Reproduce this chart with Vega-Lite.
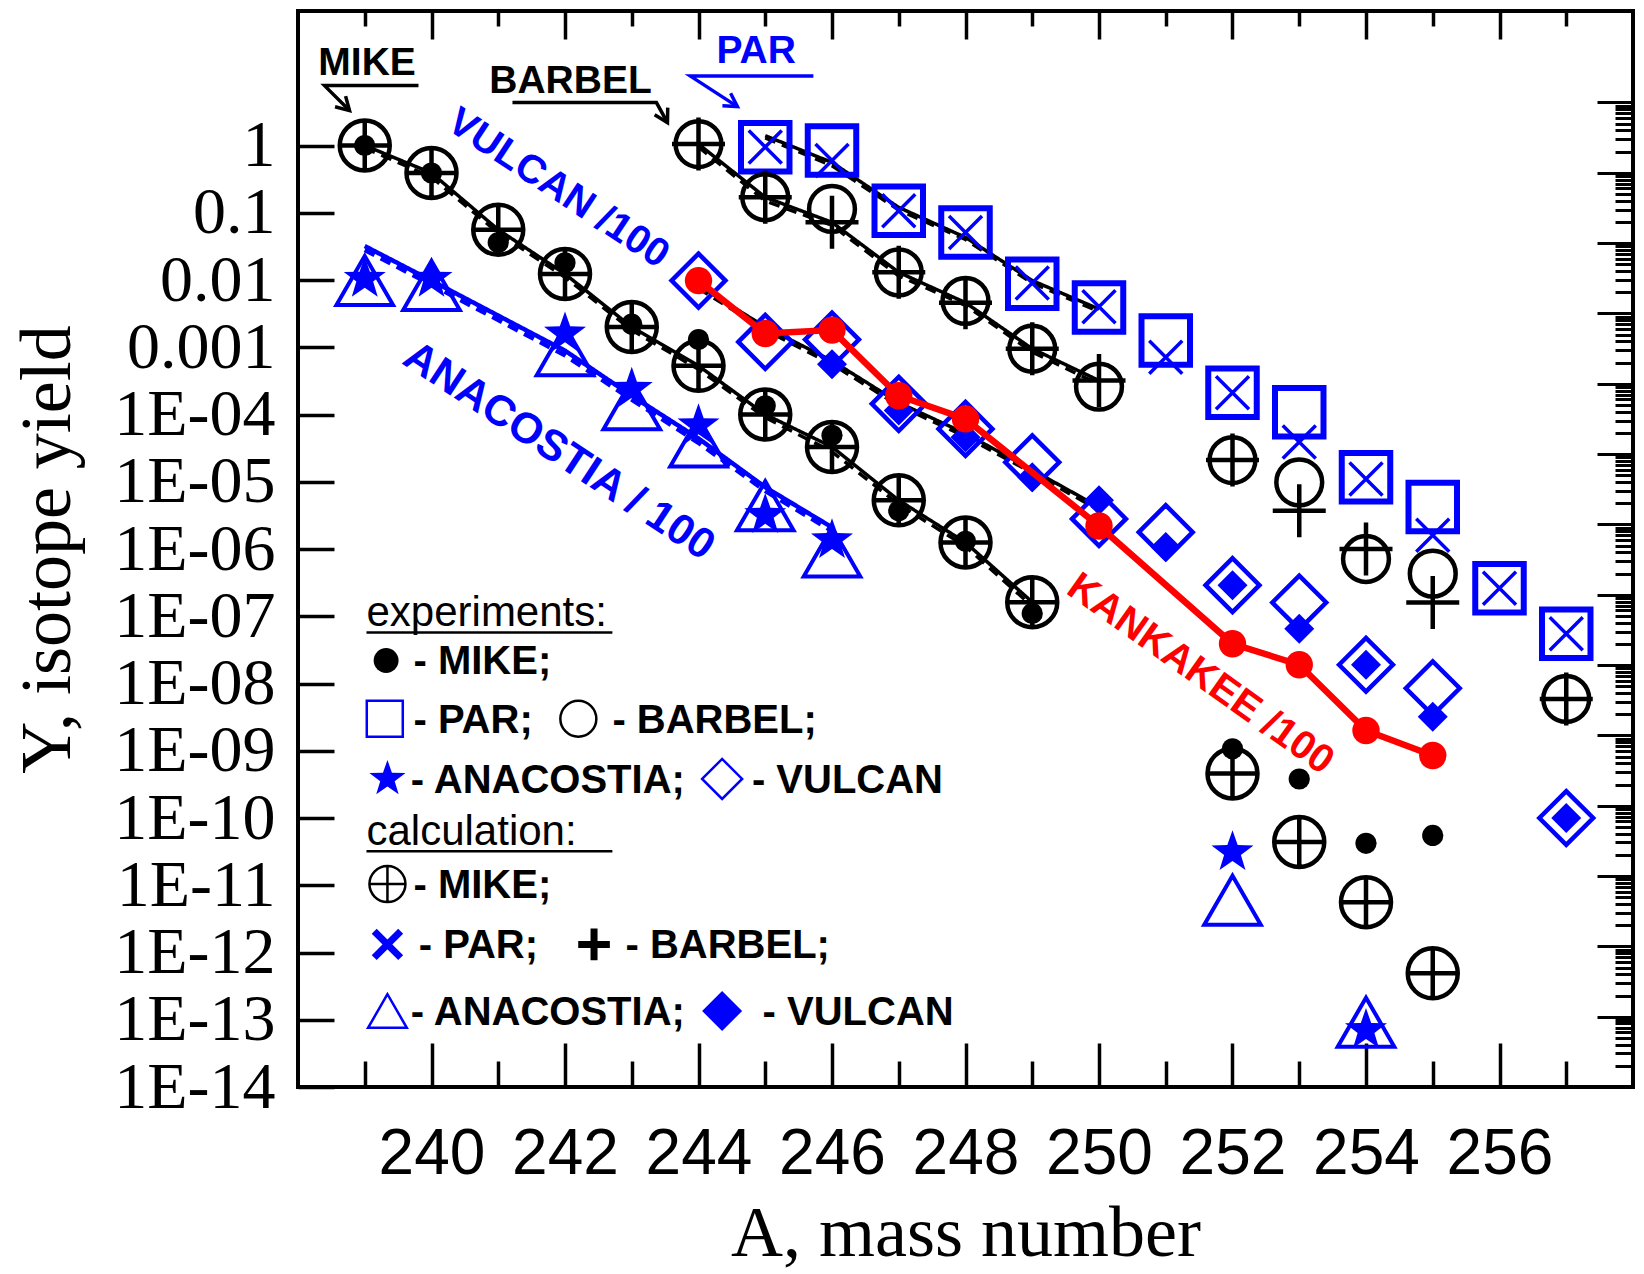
{
  "$schema": "https://vega.github.io/schema/vega-lite/v6.json",
  "autosize": {"type": "none"},
  "padding": {"left": 298, "top": 11, "right": 11, "bottom": 187},
  "width": 1335,
  "height": 1076,
  "background": "white",
  "config": {
    "view": {"stroke": "black", "strokeWidth": 4},
    "axis": {"grid": false, "domain": false, "tickColor": "black", "tickWidth": 3.5, "labelColor": "black", "titleColor": "black", "labelOverlap": false, "labelBound": false, "labelFlush": false}
  },
  "datasets": {
    "points": [
      {"A": 239, "Y": 1.0, "series": "MIKE", "kind": "exp"},
      {"A": 240, "Y": 0.39, "series": "MIKE", "kind": "exp"},
      {"A": 241, "Y": 0.036, "series": "MIKE", "kind": "exp"},
      {"A": 242, "Y": 0.018, "series": "MIKE", "kind": "exp"},
      {"A": 243, "Y": 0.0022, "series": "MIKE", "kind": "exp"},
      {"A": 244, "Y": 0.0013, "series": "MIKE", "kind": "exp"},
      {"A": 245, "Y": 1.35e-4, "series": "MIKE", "kind": "exp"},
      {"A": 246, "Y": 4.9e-5, "series": "MIKE", "kind": "exp"},
      {"A": 247, "Y": 3.7e-6, "series": "MIKE", "kind": "exp"},
      {"A": 248, "Y": 1.3e-6, "series": "MIKE", "kind": "exp"},
      {"A": 249, "Y": 1.1e-7, "series": "MIKE", "kind": "exp"},
      {"A": 252, "Y": 1.07e-9, "series": "MIKE", "kind": "exp"},
      {"A": 253, "Y": 3.8e-10, "series": "MIKE", "kind": "exp"},
      {"A": 254, "Y": 4.2e-11, "series": "MIKE", "kind": "exp"},
      {"A": 255, "Y": 5.5e-11, "series": "MIKE", "kind": "exp"},
      {"A": 239, "Y": 1.0, "series": "MIKE", "kind": "calc"},
      {"A": 240, "Y": 0.39, "series": "MIKE", "kind": "calc"},
      {"A": 241, "Y": 0.056, "series": "MIKE", "kind": "calc"},
      {"A": 242, "Y": 0.0123, "series": "MIKE", "kind": "calc"},
      {"A": 243, "Y": 0.002, "series": "MIKE", "kind": "calc"},
      {"A": 244, "Y": 5.3e-4, "series": "MIKE", "kind": "calc"},
      {"A": 245, "Y": 1.0e-4, "series": "MIKE", "kind": "calc"},
      {"A": 246, "Y": 3.3e-5, "series": "MIKE", "kind": "calc"},
      {"A": 247, "Y": 5.3e-6, "series": "MIKE", "kind": "calc"},
      {"A": 248, "Y": 1.25e-6, "series": "MIKE", "kind": "calc"},
      {"A": 249, "Y": 1.62e-7, "series": "MIKE", "kind": "calc"},
      {"A": 252, "Y": 4.6e-10, "series": "MIKE", "kind": "calc"},
      {"A": 253, "Y": 4.4e-11, "series": "MIKE", "kind": "calc"},
      {"A": 254, "Y": 5.6e-12, "series": "MIKE", "kind": "calc"},
      {"A": 255, "Y": 4.9e-13, "series": "MIKE", "kind": "calc"},
      {"A": 244, "Y": 1.05, "series": "BARBEL", "kind": "exp"},
      {"A": 245, "Y": 0.17, "series": "BARBEL", "kind": "exp"},
      {"A": 246, "Y": 0.114, "series": "BARBEL", "kind": "exp"},
      {"A": 247, "Y": 0.013, "series": "BARBEL", "kind": "exp"},
      {"A": 248, "Y": 0.0049, "series": "BARBEL", "kind": "exp"},
      {"A": 249, "Y": 9.5e-4, "series": "BARBEL", "kind": "exp"},
      {"A": 250, "Y": 2.6e-4, "series": "BARBEL", "kind": "exp"},
      {"A": 252, "Y": 2.1e-5, "series": "BARBEL", "kind": "exp"},
      {"A": 253, "Y": 9.8e-6, "series": "BARBEL", "kind": "exp"},
      {"A": 254, "Y": 7.1e-7, "series": "BARBEL", "kind": "exp"},
      {"A": 255, "Y": 4.3e-7, "series": "BARBEL", "kind": "exp"},
      {"A": 257, "Y": 5.9e-9, "series": "BARBEL", "kind": "exp"},
      {"A": 244, "Y": 1.05, "series": "BARBEL", "kind": "calc"},
      {"A": 245, "Y": 0.17, "series": "BARBEL", "kind": "calc"},
      {"A": 246, "Y": 0.072, "series": "BARBEL", "kind": "calc"},
      {"A": 247, "Y": 0.013, "series": "BARBEL", "kind": "calc"},
      {"A": 248, "Y": 0.0046, "series": "BARBEL", "kind": "calc"},
      {"A": 249, "Y": 9.5e-4, "series": "BARBEL", "kind": "calc"},
      {"A": 250, "Y": 3.2e-4, "series": "BARBEL", "kind": "calc"},
      {"A": 252, "Y": 2.1e-5, "series": "BARBEL", "kind": "calc"},
      {"A": 253, "Y": 3.7e-6, "series": "BARBEL", "kind": "calc"},
      {"A": 254, "Y": 1.0e-6, "series": "BARBEL", "kind": "calc"},
      {"A": 255, "Y": 1.6e-7, "series": "BARBEL", "kind": "calc"},
      {"A": 257, "Y": 5.9e-9, "series": "BARBEL", "kind": "calc"},
      {"A": 245, "Y": 0.94, "series": "PAR", "kind": "exp"},
      {"A": 246, "Y": 0.84, "series": "PAR", "kind": "exp"},
      {"A": 247, "Y": 0.107, "series": "PAR", "kind": "exp"},
      {"A": 248, "Y": 0.051, "series": "PAR", "kind": "exp"},
      {"A": 249, "Y": 0.0088, "series": "PAR", "kind": "exp"},
      {"A": 250, "Y": 0.0039, "series": "PAR", "kind": "exp"},
      {"A": 251, "Y": 0.00126, "series": "PAR", "kind": "exp"},
      {"A": 252, "Y": 2.1e-4, "series": "PAR", "kind": "exp"},
      {"A": 253, "Y": 1.08e-4, "series": "PAR", "kind": "exp"},
      {"A": 254, "Y": 1.17e-5, "series": "PAR", "kind": "exp"},
      {"A": 255, "Y": 4.2e-6, "series": "PAR", "kind": "exp"},
      {"A": 256, "Y": 2.6e-7, "series": "PAR", "kind": "exp"},
      {"A": 257, "Y": 5.5e-8, "series": "PAR", "kind": "exp"},
      {"A": 245, "Y": 0.95, "series": "PAR", "kind": "calc"},
      {"A": 246, "Y": 0.6, "series": "PAR", "kind": "calc"},
      {"A": 247, "Y": 0.107, "series": "PAR", "kind": "calc"},
      {"A": 248, "Y": 0.051, "series": "PAR", "kind": "calc"},
      {"A": 249, "Y": 0.009, "series": "PAR", "kind": "calc"},
      {"A": 250, "Y": 0.004, "series": "PAR", "kind": "calc"},
      {"A": 251, "Y": 7.1e-4, "series": "PAR", "kind": "calc"},
      {"A": 252, "Y": 2.1e-4, "series": "PAR", "kind": "calc"},
      {"A": 253, "Y": 3.9e-5, "series": "PAR", "kind": "calc"},
      {"A": 254, "Y": 1.1e-5, "series": "PAR", "kind": "calc"},
      {"A": 255, "Y": 1.6e-6, "series": "PAR", "kind": "calc"},
      {"A": 256, "Y": 2.6e-7, "series": "PAR", "kind": "calc"},
      {"A": 257, "Y": 5.5e-8, "series": "PAR", "kind": "calc"},
      {"A": 244, "Y": 0.0098, "series": "VULCAN", "kind": "exp"},
      {"A": 245, "Y": 0.0012, "series": "VULCAN", "kind": "exp"},
      {"A": 246, "Y": 0.0013, "series": "VULCAN", "kind": "exp"},
      {"A": 247, "Y": 1.44e-4, "series": "VULCAN", "kind": "exp"},
      {"A": 248, "Y": 6.1e-5, "series": "VULCAN", "kind": "exp"},
      {"A": 249, "Y": 1.95e-5, "series": "VULCAN", "kind": "exp"},
      {"A": 250, "Y": 2.8e-6, "series": "VULCAN", "kind": "exp"},
      {"A": 251, "Y": 1.78e-6, "series": "VULCAN", "kind": "exp"},
      {"A": 252, "Y": 2.9e-7, "series": "VULCAN", "kind": "exp"},
      {"A": 253, "Y": 1.6e-7, "series": "VULCAN", "kind": "exp"},
      {"A": 254, "Y": 1.9e-8, "series": "VULCAN", "kind": "exp"},
      {"A": 255, "Y": 8.5e-9, "series": "VULCAN", "kind": "exp"},
      {"A": 257, "Y": 1.0e-10, "series": "VULCAN", "kind": "exp"},
      {"A": 246, "Y": 5.6e-4, "series": "VULCAN", "kind": "calc"},
      {"A": 247, "Y": 1.15e-4, "series": "VULCAN", "kind": "calc"},
      {"A": 248, "Y": 4.6e-5, "series": "VULCAN", "kind": "calc"},
      {"A": 249, "Y": 1.17e-5, "series": "VULCAN", "kind": "calc"},
      {"A": 250, "Y": 5.3e-6, "series": "VULCAN", "kind": "calc"},
      {"A": 251, "Y": 1.07e-6, "series": "VULCAN", "kind": "calc"},
      {"A": 252, "Y": 2.9e-7, "series": "VULCAN", "kind": "calc"},
      {"A": 253, "Y": 6.5e-8, "series": "VULCAN", "kind": "calc"},
      {"A": 254, "Y": 1.9e-8, "series": "VULCAN", "kind": "calc"},
      {"A": 255, "Y": 3.2e-9, "series": "VULCAN", "kind": "calc"},
      {"A": 257, "Y": 1.0e-10, "series": "VULCAN", "kind": "calc"},
      {"A": 239, "Y": 0.0104, "series": "ANACOSTIA", "kind": "exp"},
      {"A": 240, "Y": 0.0104, "series": "ANACOSTIA", "kind": "exp"},
      {"A": 242, "Y": 0.0016, "series": "ANACOSTIA", "kind": "exp"},
      {"A": 243, "Y": 2.4e-4, "series": "ANACOSTIA", "kind": "exp"},
      {"A": 244, "Y": 6.9e-5, "series": "ANACOSTIA", "kind": "exp"},
      {"A": 245, "Y": 3.2e-6, "series": "ANACOSTIA", "kind": "exp"},
      {"A": 246, "Y": 1.35e-6, "series": "ANACOSTIA", "kind": "exp"},
      {"A": 252, "Y": 3.1e-11, "series": "ANACOSTIA", "kind": "exp"},
      {"A": 254, "Y": 7e-14, "series": "ANACOSTIA", "kind": "exp"},
      {"A": 239, "Y": 0.0098, "series": "ANACOSTIA", "kind": "calc"},
      {"A": 240, "Y": 0.0083, "series": "ANACOSTIA", "kind": "calc"},
      {"A": 242, "Y": 8.9e-4, "series": "ANACOSTIA", "kind": "calc"},
      {"A": 243, "Y": 1.4e-4, "series": "ANACOSTIA", "kind": "calc"},
      {"A": 244, "Y": 3.9e-5, "series": "ANACOSTIA", "kind": "calc"},
      {"A": 245, "Y": 4.4e-6, "series": "ANACOSTIA", "kind": "calc"},
      {"A": 246, "Y": 9e-7, "series": "ANACOSTIA", "kind": "calc"},
      {"A": 252, "Y": 6e-12, "series": "ANACOSTIA", "kind": "calc"},
      {"A": 254, "Y": 9.2e-14, "series": "ANACOSTIA", "kind": "calc"},
      {"A": 244, "Y": 0.0098, "series": "KANKAKEE", "kind": "exp"},
      {"A": 245, "Y": 0.0016, "series": "KANKAKEE", "kind": "exp"},
      {"A": 246, "Y": 0.0018, "series": "KANKAKEE", "kind": "exp"},
      {"A": 247, "Y": 1.9e-4, "series": "KANKAKEE", "kind": "exp"},
      {"A": 248, "Y": 8.6e-5, "series": "KANKAKEE", "kind": "exp"},
      {"A": 250, "Y": 2.2e-6, "series": "KANKAKEE", "kind": "exp"},
      {"A": 252, "Y": 3.9e-8, "series": "KANKAKEE", "kind": "exp"},
      {"A": 253, "Y": 1.9e-8, "series": "KANKAKEE", "kind": "exp"},
      {"A": 254, "Y": 2.0e-9, "series": "KANKAKEE", "kind": "exp"},
      {"A": 255, "Y": 8.5e-10, "series": "KANKAKEE", "kind": "exp"}
    ],
    "lines": [
      {"A": 239, "Y": 1.0, "series": "MIKE", "curve": "fit 1"},
      {"A": 240, "Y": 0.39, "series": "MIKE", "curve": "fit 1"},
      {"A": 241, "Y": 0.056, "series": "MIKE", "curve": "fit 1"},
      {"A": 242, "Y": 0.0123, "series": "MIKE", "curve": "fit 1"},
      {"A": 243, "Y": 0.002, "series": "MIKE", "curve": "fit 1"},
      {"A": 244, "Y": 5.3e-4, "series": "MIKE", "curve": "fit 1"},
      {"A": 245, "Y": 1.0e-4, "series": "MIKE", "curve": "fit 1"},
      {"A": 246, "Y": 3.3e-5, "series": "MIKE", "curve": "fit 1"},
      {"A": 247, "Y": 5.3e-6, "series": "MIKE", "curve": "fit 1"},
      {"A": 248, "Y": 1.25e-6, "series": "MIKE", "curve": "fit 1"},
      {"A": 249, "Y": 1.62e-7, "series": "MIKE", "curve": "fit 1"},
      {"A": 239, "Y": 0.92, "series": "MIKE", "curve": "fit 2"},
      {"A": 240, "Y": 0.34, "series": "MIKE", "curve": "fit 2"},
      {"A": 241, "Y": 0.05, "series": "MIKE", "curve": "fit 2"},
      {"A": 242, "Y": 0.011, "series": "MIKE", "curve": "fit 2"},
      {"A": 243, "Y": 0.0018, "series": "MIKE", "curve": "fit 2"},
      {"A": 244, "Y": 4.7e-4, "series": "MIKE", "curve": "fit 2"},
      {"A": 245, "Y": 9e-5, "series": "MIKE", "curve": "fit 2"},
      {"A": 246, "Y": 2.8e-5, "series": "MIKE", "curve": "fit 2"},
      {"A": 247, "Y": 4.6e-6, "series": "MIKE", "curve": "fit 2"},
      {"A": 248, "Y": 1.1e-6, "series": "MIKE", "curve": "fit 2"},
      {"A": 249, "Y": 1.4e-7, "series": "MIKE", "curve": "fit 2"},
      {"A": 244, "Y": 1.05, "series": "BARBEL", "curve": "fit 1"},
      {"A": 245, "Y": 0.17, "series": "BARBEL", "curve": "fit 1"},
      {"A": 246, "Y": 0.072, "series": "BARBEL", "curve": "fit 1"},
      {"A": 247, "Y": 0.013, "series": "BARBEL", "curve": "fit 1"},
      {"A": 248, "Y": 0.0046, "series": "BARBEL", "curve": "fit 1"},
      {"A": 249, "Y": 9.5e-4, "series": "BARBEL", "curve": "fit 1"},
      {"A": 250, "Y": 3.2e-4, "series": "BARBEL", "curve": "fit 1"},
      {"A": 244, "Y": 0.95, "series": "BARBEL", "curve": "fit 2"},
      {"A": 245, "Y": 0.15, "series": "BARBEL", "curve": "fit 2"},
      {"A": 246, "Y": 0.065, "series": "BARBEL", "curve": "fit 2"},
      {"A": 247, "Y": 0.0115, "series": "BARBEL", "curve": "fit 2"},
      {"A": 248, "Y": 0.0042, "series": "BARBEL", "curve": "fit 2"},
      {"A": 249, "Y": 8.5e-4, "series": "BARBEL", "curve": "fit 2"},
      {"A": 250, "Y": 2.8e-4, "series": "BARBEL", "curve": "fit 2"},
      {"A": 245, "Y": 1.4, "series": "PAR", "curve": "fit 1"},
      {"A": 246, "Y": 0.56, "series": "PAR", "curve": "fit 1"},
      {"A": 247, "Y": 0.12, "series": "PAR", "curve": "fit 1"},
      {"A": 248, "Y": 0.043, "series": "PAR", "curve": "fit 1"},
      {"A": 249, "Y": 0.0098, "series": "PAR", "curve": "fit 1"},
      {"A": 250, "Y": 0.0037, "series": "PAR", "curve": "fit 1"},
      {"A": 245, "Y": 1.3, "series": "PAR", "curve": "fit 2"},
      {"A": 246, "Y": 0.5, "series": "PAR", "curve": "fit 2"},
      {"A": 247, "Y": 0.11, "series": "PAR", "curve": "fit 2"},
      {"A": 248, "Y": 0.04, "series": "PAR", "curve": "fit 2"},
      {"A": 249, "Y": 0.009, "series": "PAR", "curve": "fit 2"},
      {"A": 250, "Y": 0.0034, "series": "PAR", "curve": "fit 2"},
      {"A": 244, "Y": 0.0083, "series": "VULCAN", "curve": "fit 1"},
      {"A": 245, "Y": 0.002, "series": "VULCAN", "curve": "fit 1"},
      {"A": 246, "Y": 6.3e-4, "series": "VULCAN", "curve": "fit 1"},
      {"A": 247, "Y": 1.5e-4, "series": "VULCAN", "curve": "fit 1"},
      {"A": 248, "Y": 5.2e-5, "series": "VULCAN", "curve": "fit 1"},
      {"A": 249, "Y": 1.5e-5, "series": "VULCAN", "curve": "fit 1"},
      {"A": 250, "Y": 4.2e-6, "series": "VULCAN", "curve": "fit 1"},
      {"A": 244, "Y": 0.0075, "series": "VULCAN", "curve": "fit 2"},
      {"A": 245, "Y": 0.0018, "series": "VULCAN", "curve": "fit 2"},
      {"A": 246, "Y": 5.6e-4, "series": "VULCAN", "curve": "fit 2"},
      {"A": 247, "Y": 1.35e-4, "series": "VULCAN", "curve": "fit 2"},
      {"A": 248, "Y": 4.7e-5, "series": "VULCAN", "curve": "fit 2"},
      {"A": 249, "Y": 1.35e-5, "series": "VULCAN", "curve": "fit 2"},
      {"A": 250, "Y": 3.8e-6, "series": "VULCAN", "curve": "fit 2"},
      {"A": 239, "Y": 0.032, "series": "ANACOSTIA", "curve": "fit 1"},
      {"A": 240, "Y": 0.0098, "series": "ANACOSTIA", "curve": "fit 1"},
      {"A": 242, "Y": 8.9e-4, "series": "ANACOSTIA", "curve": "fit 1"},
      {"A": 243, "Y": 1.9e-4, "series": "ANACOSTIA", "curve": "fit 1"},
      {"A": 244, "Y": 4.4e-5, "series": "ANACOSTIA", "curve": "fit 1"},
      {"A": 245, "Y": 8.3e-6, "series": "ANACOSTIA", "curve": "fit 1"},
      {"A": 246, "Y": 2.1e-6, "series": "ANACOSTIA", "curve": "fit 1"},
      {"A": 239, "Y": 0.028, "series": "ANACOSTIA", "curve": "fit 2"},
      {"A": 240, "Y": 0.0085, "series": "ANACOSTIA", "curve": "fit 2"},
      {"A": 242, "Y": 7.6e-4, "series": "ANACOSTIA", "curve": "fit 2"},
      {"A": 243, "Y": 1.66e-4, "series": "ANACOSTIA", "curve": "fit 2"},
      {"A": 244, "Y": 3.8e-5, "series": "ANACOSTIA", "curve": "fit 2"},
      {"A": 245, "Y": 7.3e-6, "series": "ANACOSTIA", "curve": "fit 2"},
      {"A": 246, "Y": 1.85e-6, "series": "ANACOSTIA", "curve": "fit 2"}
    ],
    "labels": [
      {"A": 239.035, "Y": 16.96, "label": "MIKE", "group": "black"},
      {"A": 242.083, "Y": 9.06, "label": "BARBEL", "group": "black"},
      {"A": 244.864, "Y": 25.7, "label": "PAR", "group": "blue"},
      {"A": 241.9, "Y": 0.229, "label": "VULCAN /100", "group": "vulcanTilt"},
      {"A": 241.91, "Y": 2.83e-5, "label": "ANACOSTIA / 100", "group": "anaTilt"},
      {"A": 251.52, "Y": 1.38e-8, "label": "KANKAKEE /100", "group": "redTilt"}
    ],
    "arrows": [
      {"A": 239.805, "Y": 7.77, "part": "MIKE line", "i": 0, "series": "MIKE"},
      {"A": 238.397, "Y": 7.77, "part": "MIKE line", "i": 1, "series": "MIKE"},
      {"A": 238.772, "Y": 3.304, "part": "MIKE line", "i": 2, "series": "MIKE"},
      {"A": 238.555, "Y": 3.775, "part": "MIKE head", "i": 0, "series": "MIKE"},
      {"A": 238.772, "Y": 3.304, "part": "MIKE head", "i": 1, "series": "MIKE"},
      {"A": 238.713, "Y": 5.426, "part": "MIKE head", "i": 2, "series": "MIKE"},
      {"A": 241.213, "Y": 4.343, "part": "BARBEL line", "i": 0, "series": "BARBEL"},
      {"A": 243.37, "Y": 4.343, "part": "BARBEL line", "i": 1, "series": "BARBEL"},
      {"A": 243.535, "Y": 2.19, "part": "BARBEL line", "i": 2, "series": "BARBEL"},
      {"A": 243.539, "Y": 3.66, "part": "BARBEL head", "i": 0, "series": "BARBEL"},
      {"A": 243.535, "Y": 2.19, "part": "BARBEL head", "i": 1, "series": "BARBEL"},
      {"A": 243.343, "Y": 2.86, "part": "BARBEL head", "i": 2, "series": "BARBEL"},
      {"A": 245.721, "Y": 10.76, "part": "PAR line", "i": 0, "series": "PAR"},
      {"A": 243.879, "Y": 10.76, "part": "PAR line", "i": 1, "series": "PAR"},
      {"A": 244.583, "Y": 3.788, "part": "PAR line", "i": 2, "series": "PAR"},
      {"A": 244.481, "Y": 5.991, "part": "PAR head", "i": 0, "series": "PAR"},
      {"A": 244.583, "Y": 3.788, "part": "PAR head", "i": 1, "series": "PAR"},
      {"A": 244.358, "Y": 3.892, "part": "PAR head", "i": 2, "series": "PAR"}
    ],
    "legendText": [
      {"A": 239.026, "Y": 7.05e-8, "text": "experiments:", "role": "header"},
      {"A": 239.026, "Y": 3.93e-11, "text": "calculation:", "role": "header"},
      {"A": 239.73, "Y": 2.06e-8, "text": "- MIKE;", "role": "item"},
      {"A": 239.73, "Y": 2.8e-9, "text": "- PAR;", "role": "item"},
      {"A": 242.71, "Y": 2.8e-9, "text": "- BARBEL;", "role": "item"},
      {"A": 239.69, "Y": 3.56e-10, "text": "- ANACOSTIA;", "role": "item"},
      {"A": 244.8, "Y": 3.56e-10, "text": "- VULCAN", "role": "item"},
      {"A": 239.73, "Y": 9.7e-12, "text": "- MIKE;", "role": "item"},
      {"A": 239.81, "Y": 1.23e-12, "text": "- PAR;", "role": "item"},
      {"A": 242.906, "Y": 1.23e-12, "text": "- BARBEL;", "role": "item"},
      {"A": 239.69, "Y": 1.26e-13, "text": "- ANACOSTIA;", "role": "item"},
      {"A": 244.96, "Y": 1.26e-13, "text": "- VULCAN", "role": "item"}
    ],
    "legendRules": [
      {"A": 239.026, "A2": 242.71, "Y": 5.75e-8},
      {"A": 239.026, "A2": 242.71, "Y": 3.19e-11}
    ],
    "legendSym": [
      {"A": 239.32, "Y": 2.2e-8, "sym": "MIKE exp"},
      {"A": 239.3, "Y": 2.99e-9, "sym": "PAR exp"},
      {"A": 242.2, "Y": 2.99e-9, "sym": "BARBEL exp"},
      {"A": 239.34, "Y": 3.81e-10, "sym": "ANACOSTIA exp"},
      {"A": 244.354, "Y": 3.81e-10, "sym": "VULCAN exp"},
      {"A": 239.34, "Y": 1.04e-11, "sym": "MIKE calc"},
      {"A": 239.34, "Y": 1.32e-12, "sym": "PAR calc"},
      {"A": 242.435, "Y": 1.32e-12, "sym": "BARBEL calc"},
      {"A": 239.34, "Y": 1.35e-13, "sym": "ANACOSTIA calc"},
      {"A": 244.354, "Y": 1.35e-13, "sym": "VULCAN calc"}
    ]
  },
  "resolve": {"scale": {"y": "independent"}, "axis": {"x": "independent", "y": "independent"}},
  "layer": [
    {
      "encoding": {
        "x": {
          "field": "A", "type": "quantitative",
          "scale": {"domain": [238, 258], "nice": false, "zero": false},
          "axis": {
            "orient": "bottom",
            "values": [239, 240, 241, 242, 243, 244, 245, 246, 247, 248, 249, 250, 251, 252, 253, 254, 255, 256, 257],
            "labelExpr": "datum.value % 2 == 0 ? datum.label : ''",
            "tickSize": {"condition": {"test": "datum.value % 2 == 0", "value": -44}, "value": -26},
            "labelPadding": 79,
            "labelFont": "Liberation Sans", "labelFontSize": 64,
            "title": "A,  mass number",
            "titleFont": "Liberation Serif", "titleFontSize": 72, "titleFontWeight": "normal",
            "titleBaseline": "middle", "titleY": 146
          }
        },
        "y": {
          "field": "Y", "type": "quantitative",
          "scale": {"type": "log", "domain": [1e-14, 100], "nice": false},
          "axis": {
            "orient": "left",
            "values": [1, 0.1, 0.01, 0.001, 1e-4, 1e-5, 1e-6, 1e-7, 1e-8, 1e-9, 1e-10, 1e-11, 1e-12, 1e-13, 1e-14],
            "labelExpr": "datum.value > 0.0005 ? format(datum.value, '~g') : '1E-' + (round(-log(datum.value)/LN10) < 10 ? '0' : '') + round(-log(datum.value)/LN10)",
            "tickSize": -36,
            "labelPadding": 59,
            "labelFont": "Liberation Serif", "labelFontSize": 66,
            "title": "Y, isotope yield",
            "titleFont": "Liberation Serif", "titleFontSize": 72, "titleFontWeight": "normal",
            "titleAngle": -90, "titleBaseline": "middle", "titleAlign": "center", "titleX": -251
          }
        }
      },
      "layer": [
        {
          "data": {"name": "lines"},
          "transform": [{"filter": "datum.series != 'ANACOSTIA'"}],
          "mark": {"type": "line", "color": "black", "strokeWidth": 3.5},
          "encoding": {
            "detail": {"field": "series", "type": "nominal"},
            "strokeDash": {"field": "curve", "type": "nominal", "scale": {"domain": ["fit 1", "fit 2"], "range": [[1, 0], [11, 7]]}, "legend": null}
          }
        },
        {
          "data": {"name": "lines"},
          "transform": [{"filter": "datum.series == 'ANACOSTIA'"}],
          "mark": {"type": "line", "color": "#0000ff", "strokeWidth": 4.5},
          "encoding": {
            "detail": {"field": "series", "type": "nominal"},
            "strokeDash": {"field": "curve", "type": "nominal", "scale": {"domain": ["fit 1", "fit 2"], "range": [[1, 0], [11, 7]]}, "legend": null}
          }
        },
        {
          "data": {"name": "points"},
          "transform": [{"filter": "datum.series == 'PAR' && datum.kind == 'exp'"}],
          "mark": {"type": "point", "shape": "square", "filled": false, "color": "#0000ff", "strokeWidth": 6, "size": 2352, "opacity": 1}
        },
        {
          "data": {"name": "points"},
          "transform": [{"filter": "datum.series == 'PAR' && datum.kind == 'calc'"}],
          "mark": {"type": "point", "shape": "M-1,-1L1,1M-1,1L1,-1", "filled": false, "color": "#0000ff", "strokeWidth": 3.5, "size": 1089, "opacity": 1}
        },
        {
          "data": {"name": "points"},
          "transform": [{"filter": "datum.series == 'VULCAN' && datum.kind == 'exp'"}],
          "mark": {"type": "point", "shape": "diamond", "filled": false, "color": "#0000ff", "strokeWidth": 4.5, "size": 2900, "opacity": 1}
        },
        {
          "data": {"name": "points"},
          "transform": [{"filter": "datum.series == 'VULCAN' && datum.kind == 'calc'"}],
          "mark": {"type": "point", "shape": "diamond", "filled": true, "color": "#0000ff", "size": 900, "opacity": 1}
        },
        {
          "data": {"name": "points"},
          "transform": [{"filter": "datum.series == 'BARBEL' && datum.kind == 'exp'"}],
          "mark": {"type": "point", "shape": "circle", "filled": false, "color": "black", "strokeWidth": 4.5, "size": 2100, "opacity": 1}
        },
        {
          "data": {"name": "points"},
          "transform": [{"filter": "datum.series == 'BARBEL' && datum.kind == 'calc'"}],
          "mark": {"type": "point", "shape": "M-1,0L1,0M0,-1L0,1", "filled": false, "color": "black", "strokeWidth": 4.5, "size": 2809, "opacity": 1}
        },
        {
          "data": {"name": "points"},
          "transform": [{"filter": "datum.series == 'MIKE' && datum.kind == 'calc'"}],
          "mark": {"type": "point", "shape": "M-1,0A1,1,0,1,0,1,0A1,1,0,1,0,-1,0M-1,0L1,0M0,-1L0,1", "filled": false, "color": "black", "strokeWidth": 4.5, "size": 2500, "opacity": 1}
        },
        {
          "data": {"name": "points"},
          "transform": [{"filter": "datum.series == 'MIKE' && datum.kind == 'exp'"}],
          "mark": {"type": "point", "shape": "circle", "filled": true, "color": "black", "size": 450, "opacity": 1}
        },
        {
          "data": {"name": "points"},
          "transform": [{"filter": "datum.series == 'ANACOSTIA' && datum.kind == 'calc'"}],
          "mark": {"type": "point", "shape": "triangle-up", "filled": false, "color": "#0000ff", "strokeWidth": 4, "size": 3200, "opacity": 1}
        },
        {
          "data": {"name": "points"},
          "transform": [{"filter": "datum.series == 'ANACOSTIA' && datum.kind == 'exp'"}],
          "mark": {"type": "point", "shape": "M0,-1L0.235,-0.324L0.951,-0.309L0.38,0.124L0.588,0.809L0,0.4L-0.588,0.809L-0.38,0.124L-0.951,-0.309L-0.235,-0.324Z", "filled": true, "color": "#0000ff", "size": 1950, "opacity": 1}
        },
        {
          "data": {"name": "points"},
          "transform": [{"filter": "datum.series == 'KANKAKEE'"}],
          "mark": {"type": "line", "color": "#ff0000", "strokeWidth": 6.5},
          "encoding": {}
        },
        {
          "data": {"name": "points"},
          "transform": [{"filter": "datum.series == 'KANKAKEE'"}],
          "mark": {"type": "point", "shape": "circle", "filled": true, "color": "#ff0000", "size": 750, "opacity": 1}
        },
        {
          "data": {"name": "labels"},
          "transform": [{"filter": "datum.group == 'black'"}],
          "mark": {"type": "text", "font": "Liberation Sans", "fontWeight": "bold", "fontSize": 39, "color": "black", "align": "center", "baseline": "middle"},
          "encoding": {"text": {"field": "label"}}
        },
        {
          "data": {"name": "labels"},
          "transform": [{"filter": "datum.group == 'blue'"}],
          "mark": {"type": "text", "font": "Liberation Sans", "fontWeight": "bold", "fontSize": 39, "color": "#0000ff", "align": "center", "baseline": "middle"},
          "encoding": {"text": {"field": "label"}}
        },
        {
          "data": {"name": "labels"},
          "transform": [{"filter": "datum.group == 'vulcanTilt'"}],
          "mark": {"type": "text", "font": "Liberation Sans", "fontWeight": "bold", "fontSize": 40, "color": "#0000ff", "align": "center", "baseline": "middle", "angle": 33.5},
          "encoding": {"text": {"field": "label"}}
        },
        {
          "data": {"name": "labels"},
          "transform": [{"filter": "datum.group == 'anaTilt'"}],
          "mark": {"type": "text", "font": "Liberation Sans", "fontWeight": "bold", "fontSize": 43, "color": "#0000ff", "align": "center", "baseline": "middle", "angle": 33.3},
          "encoding": {"text": {"field": "label"}}
        },
        {
          "data": {"name": "labels"},
          "transform": [{"filter": "datum.group == 'redTilt'"}],
          "mark": {"type": "text", "font": "Liberation Sans", "fontWeight": "bold", "fontSize": 40, "color": "#ff0000", "align": "center", "baseline": "middle", "angle": 35.4},
          "encoding": {"text": {"field": "label"}}
        },
        {
          "data": {"name": "arrows"},
          "transform": [{"filter": "datum.series != 'PAR'"}],
          "mark": {"type": "line", "color": "black", "strokeWidth": 3.5},
          "encoding": {"detail": {"field": "part", "type": "nominal"}, "order": {"field": "i", "type": "quantitative"}}
        },
        {
          "data": {"name": "arrows"},
          "transform": [{"filter": "datum.series == 'PAR'"}],
          "mark": {"type": "line", "color": "#0000ff", "strokeWidth": 3.5},
          "encoding": {"detail": {"field": "part", "type": "nominal"}, "order": {"field": "i", "type": "quantitative"}}
        },
        {
          "data": {"name": "legendRules"},
          "mark": {"type": "rule", "color": "black", "strokeWidth": 2.5},
          "encoding": {"x2": {"field": "A2"}}
        },
        {
          "data": {"name": "legendText"},
          "transform": [{"filter": "datum.role == 'header'"}],
          "mark": {"type": "text", "font": "Liberation Sans", "fontWeight": "normal", "fontSize": 42, "color": "black", "align": "left", "baseline": "alphabetic"},
          "encoding": {"text": {"field": "text"}}
        },
        {
          "data": {"name": "legendText"},
          "transform": [{"filter": "datum.role == 'item'"}],
          "mark": {"type": "text", "font": "Liberation Sans", "fontWeight": "bold", "fontSize": 40, "color": "black", "align": "left", "baseline": "middle"},
          "encoding": {"text": {"field": "text"}}
        },
        {
          "data": {"name": "legendSym"},
          "transform": [{"filter": "datum.sym == 'MIKE exp'"}],
          "mark": {"type": "point", "shape": "circle", "filled": true, "color": "black", "size": 620, "opacity": 1}
        },
        {
          "data": {"name": "legendSym"},
          "transform": [{"filter": "datum.sym == 'PAR exp'"}],
          "mark": {"type": "point", "shape": "square", "filled": false, "color": "#0000ff", "strokeWidth": 2.5, "size": 1296, "opacity": 1}
        },
        {
          "data": {"name": "legendSym"},
          "transform": [{"filter": "datum.sym == 'BARBEL exp'"}],
          "mark": {"type": "point", "shape": "circle", "filled": false, "color": "black", "strokeWidth": 2.5, "size": 1296, "opacity": 1}
        },
        {
          "data": {"name": "legendSym"},
          "transform": [{"filter": "datum.sym == 'ANACOSTIA exp'"}],
          "mark": {"type": "point", "shape": "M0,-1L0.235,-0.324L0.951,-0.309L0.38,0.124L0.588,0.809L0,0.4L-0.588,0.809L-0.38,0.124L-0.951,-0.309L-0.235,-0.324Z", "filled": true, "color": "#0000ff", "size": 1450, "opacity": 1}
        },
        {
          "data": {"name": "legendSym"},
          "transform": [{"filter": "datum.sym == 'VULCAN exp'"}],
          "mark": {"type": "point", "shape": "diamond", "filled": false, "color": "#0000ff", "strokeWidth": 2.5, "size": 1600, "opacity": 1}
        },
        {
          "data": {"name": "legendSym"},
          "transform": [{"filter": "datum.sym == 'MIKE calc'"}],
          "mark": {"type": "point", "shape": "M-1,0A1,1,0,1,0,1,0A1,1,0,1,0,-1,0M-1,0L1,0M0,-1L0,1", "filled": false, "color": "black", "strokeWidth": 2.5, "size": 1296, "opacity": 1}
        },
        {
          "data": {"name": "legendSym"},
          "transform": [{"filter": "datum.sym == 'PAR calc'"}],
          "mark": {"type": "point", "shape": "M-1,-1L1,1M-1,1L1,-1", "filled": false, "color": "#0000ff", "strokeWidth": 7, "size": 700, "opacity": 1}
        },
        {
          "data": {"name": "legendSym"},
          "transform": [{"filter": "datum.sym == 'BARBEL calc'"}],
          "mark": {"type": "point", "shape": "M-1,0L1,0M0,-1L0,1", "filled": false, "color": "black", "strokeWidth": 7, "size": 1000, "opacity": 1}
        },
        {
          "data": {"name": "legendSym"},
          "transform": [{"filter": "datum.sym == 'ANACOSTIA calc'"}],
          "mark": {"type": "point", "shape": "triangle-up", "filled": false, "color": "#0000ff", "strokeWidth": 2.5, "size": 1500, "opacity": 1}
        },
        {
          "data": {"name": "legendSym"},
          "transform": [{"filter": "datum.sym == 'VULCAN calc'"}],
          "mark": {"type": "point", "shape": "diamond", "filled": true, "color": "#0000ff", "size": 1600, "opacity": 1}
        }
      ]
    },
    {
      "data": {"values": [{"A": 248, "Yr": 1}]},
      "mark": {"type": "point", "opacity": 0},
      "encoding": {
        "x": {
          "field": "A", "type": "quantitative",
          "scale": {"domain": [238, 258], "nice": false, "zero": false},
          "axis": {
            "orient": "top",
            "values": [239, 240, 241, 242, 243, 244, 245, 246, 247, 248, 249, 250, 251, 252, 253, 254, 255, 256, 257],
            "labels": false, "title": null,
            "tickSize": {"condition": {"test": "datum.value % 2 == 0", "value": -28}, "value": -15}
          }
        },
        "y": {
          "field": "Yr", "type": "quantitative",
          "scale": {"type": "log", "domain": [1e-14, 20], "nice": false},
          "axis": {
            "orient": "right",
            "labels": false, "title": null,
            "values": [1e-14, 2e-14, 3e-14, 4e-14, 5e-14, 6e-14, 7e-14, 8e-14, 9e-14,
                       1e-13, 2e-13, 3e-13, 4e-13, 5e-13, 6e-13, 7e-13, 8e-13, 9e-13,
                       1e-12, 2e-12, 3e-12, 4e-12, 5e-12, 6e-12, 7e-12, 8e-12, 9e-12,
                       1e-11, 2e-11, 3e-11, 4e-11, 5e-11, 6e-11, 7e-11, 8e-11, 9e-11,
                       1e-10, 2e-10, 3e-10, 4e-10, 5e-10, 6e-10, 7e-10, 8e-10, 9e-10,
                       1e-9, 2e-9, 3e-9, 4e-9, 5e-9, 6e-9, 7e-9, 8e-9, 9e-9,
                       1e-8, 2e-8, 3e-8, 4e-8, 5e-8, 6e-8, 7e-8, 8e-8, 9e-8,
                       1e-7, 2e-7, 3e-7, 4e-7, 5e-7, 6e-7, 7e-7, 8e-7, 9e-7,
                       1e-6, 2e-6, 3e-6, 4e-6, 5e-6, 6e-6, 7e-6, 8e-6, 9e-6,
                       1e-5, 2e-5, 3e-5, 4e-5, 5e-5, 6e-5, 7e-5, 8e-5, 9e-5,
                       1e-4, 2e-4, 3e-4, 4e-4, 5e-4, 6e-4, 7e-4, 8e-4, 9e-4,
                       0.001, 0.002, 0.003, 0.004, 0.005, 0.006, 0.007, 0.008, 0.009,
                       0.01, 0.02, 0.03, 0.04, 0.05, 0.06, 0.07, 0.08, 0.09,
                       0.1, 0.2, 0.3, 0.4, 0.5, 0.6, 0.7, 0.8, 0.9, 1],
            "tickSize": {"condition": {"test": "abs(log(datum.value)/LN10 - round(log(datum.value)/LN10)) < 0.001", "value": -36}, "value": -18},
            "tickWidth": 3
          }
        }
      }
    }
  ]
}
